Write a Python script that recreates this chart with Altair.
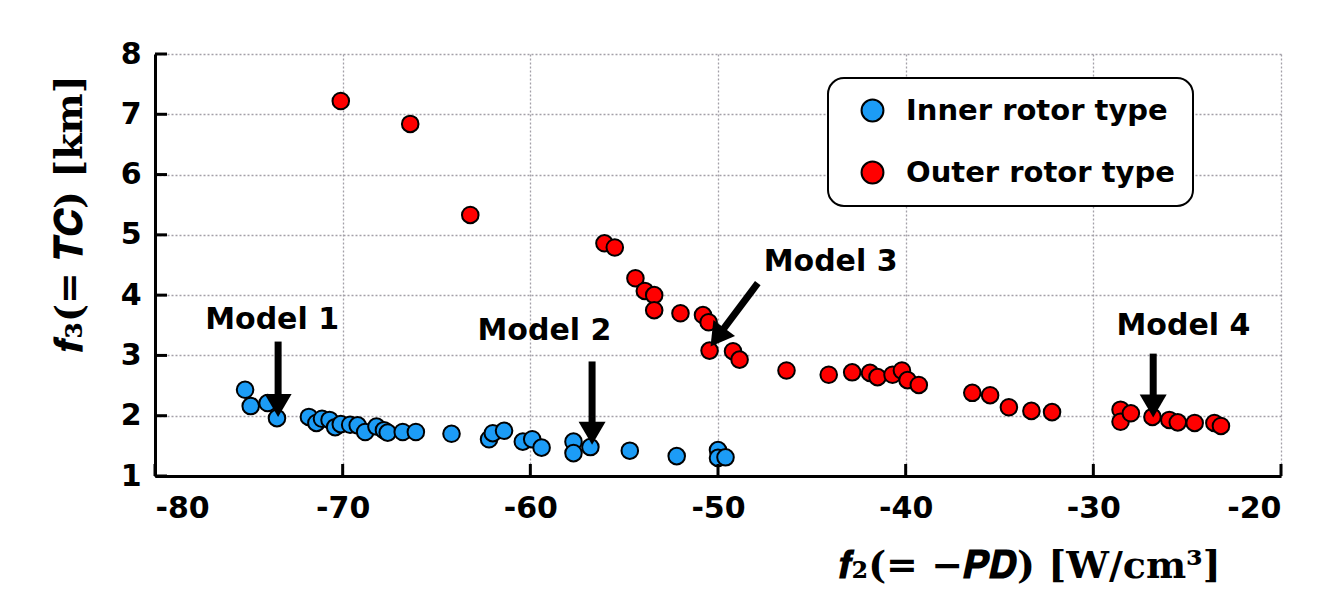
import math
import altair as alt
import pandas as pd

# ---------------- data ----------------
inner_x = [-75.2, -74.9, -74.0, -73.5, -71.8, -71.4, -71.1, -70.7, -70.4, -70.1, -69.6,
           -69.2, -68.8, -68.2, -67.8, -67.6, -66.8, -66.1, -64.2, -62.2, -62.0, -61.4,
           -60.4, -59.9, -59.4, -57.7, -57.7, -56.8, -54.7, -52.2, -50.0, -50.0, -49.6]
inner_y = [2.43, 2.16, 2.21, 1.96, 1.98, 1.88, 1.95, 1.93, 1.81, 1.86, 1.85,
           1.84, 1.73, 1.82, 1.76, 1.72, 1.73, 1.73, 1.70, 1.61, 1.71, 1.75,
           1.57, 1.61, 1.47, 1.57, 1.38, 1.48, 1.42, 1.33, 1.43, 1.30, 1.31]

outer_x = [-70.1, -66.4, -63.2, -56.05, -55.5, -54.4, -53.9, -53.4, -53.4, -52.0, -50.8,
           -50.5, -50.45, -49.2, -48.85, -46.35, -44.1, -42.85, -41.9, -41.5, -40.7, -40.2,
           -39.9, -39.3, -36.45, -35.5, -34.5, -33.3, -32.2, -28.55, -28.55, -28.0, -26.85,
           -25.95, -25.5, -24.6, -23.55, -23.2]
outer_y = [7.22, 6.84, 5.33, 4.86, 4.79, 4.28, 4.07, 4.00, 3.75, 3.70, 3.67,
           3.55, 3.08, 3.07, 2.93, 2.75, 2.68, 2.72, 2.71, 2.64, 2.68, 2.75,
           2.59, 2.51, 2.38, 2.34, 2.14, 2.08, 2.06, 2.10, 1.90, 2.04, 1.98,
           1.93, 1.89, 1.88, 1.88, 1.83]

series_names = ["Inner rotor type", "Outer rotor type"]
series_colors = ["#1c9cf6", "#ff0000"]

x_ticks = [-80, -70, -60, -50, -40, -30, -20]
y_ticks = [1, 2, 3, 4, 5, 6, 7, 8]

model_labels = ["Model 1", "Model 2", "Model 3", "Model 4"]
label_x = [-73.76, -59.25, -44.0, -25.2]
label_y = [3.59, 3.41, 4.55, 3.49]
arrow_start_x = [-73.44, -56.71, -47.88, -26.81]
arrow_start_y = [3.23, 2.90, 4.20, 3.03]
arrow_tip_x = [-73.44, -56.71, -50.40, -26.81]
arrow_tip_y = [1.98, 1.52, 3.15, 1.97]

# ---------------- layout ----------------
W, H = 1126, 422
X_DOM = [-80, -20]
Y_DOM = [1, 8]
px_x = W / (X_DOM[1] - X_DOM[0])
px_y = H / (Y_DOM[1] - Y_DOM[0])
HEAD = 27
HEAD_PATH = "M-1,-0.85L1,-0.85L0,0.85Z"
head_half = 0.85 * HEAD / 2

pts = pd.DataFrame({
    "x": inner_x + outer_x,
    "y": inner_y + outer_y,
    "type": [series_names[0]] * len(inner_x) + [series_names[1]] * len(outer_x),
})

rows = []
for i, lab in enumerate(model_labels):
    dx = (arrow_tip_x[i] - arrow_start_x[i]) * px_x
    dy = -(arrow_tip_y[i] - arrow_start_y[i]) * px_y
    n = math.hypot(dx, dy)
    ux, uy = dx / n, dy / n
    hx = arrow_tip_x[i] - ux * head_half / px_x
    hy = arrow_tip_y[i] + uy * head_half / px_y
    ang = math.degrees(math.atan2(-dx, dy)) % 360
    rows.append({"label": lab, "lx": label_x[i], "ly": label_y[i],
                 "x": arrow_start_x[i], "y": arrow_start_y[i],
                 "hx": hx, "hy": hy, "ang": ang})
ann = pd.DataFrame(rows)

xs = alt.Scale(domain=X_DOM, nice=False, zero=False)
ys = alt.Scale(domain=Y_DOM, nice=False, zero=False)

x_title = "𝒇₂(= −𝑷𝑫) [W/cm³]"
y_title = "𝒇₃(= 𝑻𝑪) [km]"

points = alt.Chart(pts).mark_point(
    filled=True, shape="circle", size=275, stroke="black", strokeWidth=2, opacity=1
).encode(
    x=alt.X("x:Q", scale=xs, axis=alt.Axis(
        values=x_ticks, labelExpr="'' + datum.value", title=x_title,
        titleX=683, titleY=90, titleAlign="left", titleBaseline="middle", titleAngle=0,
    )),
    y=alt.Y("y:Q", scale=ys, axis=alt.Axis(
        values=y_ticks, labelExpr="'' + datum.value", title=y_title,
        titleX=-85, titleY=159, titleAlign="center", titleBaseline="middle", titleAngle=270,
    )),
    fill=alt.Fill("type:N", scale=alt.Scale(domain=series_names, range=series_colors),
                  legend=alt.Legend(title=None, orient="none", legendX=673, legendY=24,
                                    labelExpr="datum.label + '\u00a0\u00a0'")),
)

xtick_df = pd.DataFrame({"x": x_ticks})
ytick_df = pd.DataFrame({"y": y_ticks})

xticks = alt.Chart(xtick_df).mark_rule(color="black", strokeWidth=3).encode(
    x=alt.X("x:Q", scale=xs), y=alt.value(H), y2=alt.value(H - 12))
yticks = alt.Chart(ytick_df).mark_rule(color="black", strokeWidth=3).encode(
    y=alt.Y("y:Q", scale=ys), x=alt.value(0), x2=alt.value(12))

shafts = alt.Chart(ann).mark_rule(color="black", strokeWidth=7, strokeCap="butt").encode(
    x=alt.X("x:Q", scale=xs), y=alt.Y("y:Q", scale=ys),
    x2="hx:Q", y2="hy:Q")

heads = alt.Chart(ann).mark_point(
    filled=True, shape=HEAD_PATH, size=HEAD * HEAD, color="black", opacity=1, strokeWidth=0
).encode(
    x=alt.X("hx:Q", scale=xs), y=alt.Y("hy:Q", scale=ys),
    angle=alt.Angle("ang:Q", scale=None))

labels = alt.Chart(ann).mark_text(
    font="DejaVu Sans", fontWeight="bold", fontSize=30, color="black",
    align="center", baseline="middle"
).encode(x=alt.X("lx:Q", scale=xs), y=alt.Y("ly:Q", scale=ys), text="label:N")

chart = alt.layer(points, xticks, yticks, shafts, heads, labels).properties(
    width=W, height=H,
    autosize=alt.AutoSizeParams(type="none"),
    padding={"left": 147, "top": 46, "right": 35, "bottom": 119},
).configure_view(strokeWidth=0).configure_axis(
    grid=True, gridColor="#a3a0a8", gridDash=[2, 2], gridWidth=1.3,
    domainColor="black", domainWidth=3, ticks=False, tickSize=0,
    labelFont="DejaVu Sans", labelFontWeight="bold", labelFontSize=30, labelColor="black",
    titleFont="DejaVu Serif", titleFontWeight="bold", titleFontSize=38, titleColor="black",
).configure_axisX(labelPadding=17).configure_axisY(labelPadding=14).configure_legend(
    fillColor="white", strokeColor="black", strokeWidth=2, cornerRadius=16,
    padding=18, rowPadding=31, symbolOffset=12, labelOffset=19,
    symbolType="circle", symbolSize=480, symbolStrokeColor="black", symbolStrokeWidth=2,
    symbolOpacity=1, labelFont="DejaVu Sans", labelFontWeight="bold", labelFontSize=29,
    labelColor="black", labelLimit=400,
)

chart.save("out.html", embed_options={"renderer": "svg", "actions": False})
